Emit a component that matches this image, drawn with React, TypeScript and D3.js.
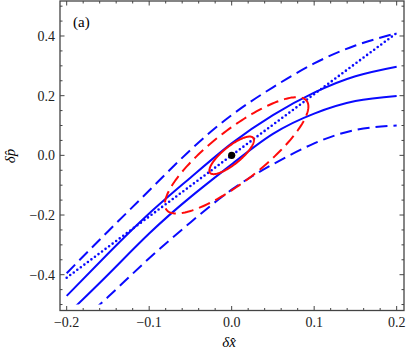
import { useEffect, useRef } from "react";
import * as d3 from "d3";

// curve samples
const xs = [-0.2, -0.15, -0.1, -0.05, 0.0, 0.05, 0.1, 0.15, 0.2];
const upperDashed = [-0.395, -0.255, -0.118, 0.018, 0.135, 0.228, 0.308, 0.368, 0.41];
const upperSolid = [-0.471, -0.33, -0.195, -0.075, 0.04, 0.135, 0.21, 0.265, 0.297];
const lowerSolid = [-0.535, -0.4, -0.262, -0.14, -0.03, 0.072, 0.14, 0.182, 0.199];
const lowerDashed = [-0.6, -0.475, -0.345, -0.225, -0.115, -0.03, 0.04, 0.085, 0.1];
const dottedX = [-0.2, 0.0, 0.2];
const dottedY = [-0.41, 0.0, 0.41];

// ellipses: centre, half extents in x and y, phase (deg) between x and y
const smallEllipse = { cx: 0, cy: 0, ax: 0.027, ay: 0.063, phase: 36 };
const bigEllipse = { cx: 0.006, cy: 0, ax: 0.087, ay: 0.195, phase: 33 };

const xTicks = [-0.2, -0.1, 0.0, 0.1, 0.2];
const yTicks = [-0.4, -0.2, 0.0, 0.2, 0.4];

const W = 409, H = 354;

export default function App() {
    const svgRef = useRef<SVGSVGElement>(null);

    useEffect(() => {
        const svg = d3.select(svgRef.current);
        svg.selectAll("*").remove();

        const left = 60, right = 404, top = 1, bottom = 310.5;
        const x = d3.scaleLinear().domain([-0.2081, 0.2089]).range([left, right]);
        const y = d3.scaleLinear().domain([-0.52, 0.5173]).range([bottom, top]);

        svg.append("defs").append("clipPath")
            .attr("id", "plotclip")
            .append("rect")
                .attr("x", left)
                .attr("y", y(0.5))
                .attr("width", right - left)
                .attr("height", y(-0.5) - y(0.5));

        const g = svg.append("g").attr("clip-path", "url(#plotclip)");

        const line = d3.line<[number, number]>()
            .x(d => x(d[0]))
            .y(d => y(d[1]))
            .curve(d3.curveNatural);

        const blue = "#0a0aff";
        const red = "#ff0a0a";

        const curves = [
            { vals: upperDashed, dash: "12,6" },
            { vals: upperSolid, dash: null },
            { vals: lowerSolid, dash: null },
            { vals: lowerDashed, dash: "12,6" },
        ];
        curves.forEach(c => {
            g.append("path")
                .attr("d", line(xs.map((v, i) => [v, c.vals[i]] as [number, number])))
                .attr("fill", "none")
                .attr("stroke", blue)
                .attr("stroke-width", 2)
                .attr("stroke-dasharray", c.dash);
        });

        g.append("path")
            .attr("d", d3.line<[number, number]>().x(d => x(d[0])).y(d => y(d[1]))(
                dottedX.map((v, i) => [v, dottedY[i]] as [number, number])))
            .attr("fill", "none")
            .attr("stroke", blue)
            .attr("stroke-width", 2.6)
            .attr("stroke-linecap", "round")
            .attr("stroke-dasharray", "0,4.4");

        const ellipse = (e: typeof smallEllipse) => {
            const ph = e.phase * Math.PI / 180;
            const pts = d3.range(0, 2 * Math.PI, Math.PI / 90)
                .map(t => [e.cx + e.ax * Math.cos(t), e.cy + e.ay * Math.cos(t - ph)] as [number, number]);
            return d3.line<[number, number]>().x(d => x(d[0])).y(d => y(d[1])).curve(d3.curveLinearClosed)(pts);
        };

        g.append("path")
            .attr("d", ellipse(bigEllipse))
            .attr("fill", "none")
            .attr("stroke", red)
            .attr("stroke-width", 2)
            .attr("stroke-dasharray", "12,6");

        g.append("path")
            .attr("d", ellipse(smallEllipse))
            .attr("fill", "none")
            .attr("stroke", red)
            .attr("stroke-width", 2);

        g.append("circle")
            .attr("cx", x(0))
            .attr("cy", y(0))
            .attr("r", 3.6)
            .attr("fill", "black");

        // frame
        const frameColor = "#444";
        svg.append("rect")
            .attr("x", left)
            .attr("y", top)
            .attr("width", right - left)
            .attr("height", bottom - top)
            .attr("fill", "none")
            .attr("stroke", frameColor)
            .attr("stroke-width", 1.3);

        const ticks = svg.append("g").attr("stroke", frameColor).attr("stroke-width", 1);
        const xMinor = d3.range(-10, 11).map(i => i * 0.02);
        const yMinor = d3.range(-10, 11).map(i => i * 0.05).filter(v => Math.abs(v) <= 0.5);
        const isMajor = (v: number, arr: number[]) => arr.some(t => Math.abs(t - v) < 1e-6);

        xMinor.forEach(v => {
            const len = isMajor(v, xTicks) ? 4.5 : 2.5;
            ticks.append("line").attr("x1", x(v)).attr("x2", x(v)).attr("y1", bottom).attr("y2", bottom - len);
            ticks.append("line").attr("x1", x(v)).attr("x2", x(v)).attr("y1", top).attr("y2", top + len);
        });
        yMinor.forEach(v => {
            const len = isMajor(v, yTicks) ? 4.5 : 2.5;
            ticks.append("line").attr("y1", y(v)).attr("y2", y(v)).attr("x1", left).attr("x2", left + len);
            ticks.append("line").attr("y1", y(v)).attr("y2", y(v)).attr("x1", right).attr("x2", right - len);
        });

        const fmt = (v: number) => (v < 0 ? "\u2212" : "") + Math.abs(v).toFixed(1);
        const font = "'Liberation Serif', 'Times New Roman', serif";

        svg.append("g")
            .selectAll("text")
            .data(xTicks)
            .join("text")
                .attr("x", d => x(d))
                .attr("y", 326.5)
                .attr("text-anchor", "middle")
                .style("font-family", font)
                .style("font-size", "14px")
                .attr("fill", "#222")
                .text(d => fmt(d));

        svg.append("g")
            .selectAll("text")
            .data(yTicks)
            .join("text")
                .attr("x", 55)
                .attr("y", d => y(d))
                .attr("dy", "0.35em")
                .attr("text-anchor", "end")
                .style("font-family", font)
                .style("font-size", "14px")
                .attr("fill", "#222")
                .text(d => fmt(d));

        // x-axis label
        svg.append("text")
            .attr("x", 229)
            .attr("y", 347)
            .attr("text-anchor", "middle")
            .style("font-family", font)
            .style("font-size", "15px")
            .style("font-style", "italic")
            .text("\u03b4x\u0302");

        // y-axis label
        svg.append("text")
            .attr("transform", "translate(15,156) rotate(-90)")
            .attr("text-anchor", "middle")
            .style("font-family", font)
            .style("font-size", "15px")
            .style("font-style", "italic")
            .text("\u03b4p\u0302");

        // panel tag
        svg.append("text")
            .attr("x", 73)
            .attr("y", 27)
            .style("font-family", font)
            .style("font-size", "15px")
            .text("(a)");
    }, []);

    return (
        <svg ref={svgRef} width={W} height={H}
            style={{ position: "absolute", left: 0, top: 0, background: "white" }} />
    );
}
